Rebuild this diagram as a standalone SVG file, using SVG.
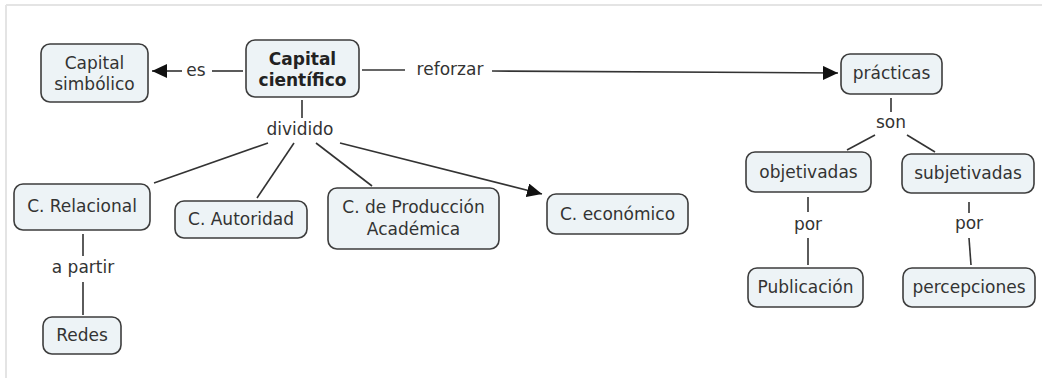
<svg xmlns="http://www.w3.org/2000/svg" width="1042" height="378" viewBox="0 0 1042 378">
<style>
.n rect{fill:#edf3f6;stroke:#3d3d3d;stroke-width:1.6}
text{font-family:"DejaVu Sans","Liberation Sans",sans-serif;font-size:17px;fill:#333;text-anchor:middle;dominant-baseline:central}
.b{font-weight:bold;fill:#222}
.c line{stroke:#333;stroke-width:1.6;fill:none}
</style>
<defs>
<marker id="ah" markerUnits="userSpaceOnUse" markerWidth="16" markerHeight="14" refX="15" refY="7" orient="auto">
<path d="M0,0 L15,7 L0,14 Z" fill="#111"/>
</marker>
</defs>
<rect x="0" y="0" width="1042" height="378" fill="#fff"/>
<line x1="6" y1="5" x2="1042" y2="5" stroke="#e4e4e4" stroke-width="2"/>
<line x1="6" y1="5" x2="6" y2="378" stroke="#e4e4e4" stroke-width="2"/>

<g class="c" id="connectors">
<line x1="243" y1="71" x2="212" y2="71"/>
<text x="196" y="70">es</text>
<line x1="182" y1="71" x2="152" y2="71" marker-end="url(#ah)"/>
<line x1="362" y1="70" x2="405" y2="70"/>
<text x="450" y="69">reforzar</text>
<line x1="492" y1="71" x2="838" y2="73" marker-end="url(#ah)"/>
<line x1="302" y1="100" x2="302" y2="118"/>
<text x="300" y="129">dividido</text>
<line x1="268" y1="143" x2="154" y2="183"/>
<line x1="294" y1="143" x2="257" y2="198"/>
<line x1="316" y1="143" x2="372" y2="186"/>
<line x1="340" y1="143" x2="542" y2="194" marker-end="url(#ah)"/>
<line x1="83" y1="234" x2="83" y2="256"/>
<text x="83" y="267">a partir</text>
<line x1="83" y1="282" x2="83" y2="315"/>
<line x1="891" y1="98" x2="891" y2="112"/>
<text x="891" y="122">son</text>
<line x1="875" y1="135" x2="847" y2="150"/>
<line x1="907" y1="135" x2="935" y2="152"/>
<line x1="808" y1="197" x2="808" y2="212"/>
<text x="808" y="224">por</text>
<line x1="808" y1="238" x2="808" y2="265"/>
<line x1="969" y1="202" x2="969" y2="213"/>
<text x="969" y="223">por</text>
<line x1="969" y1="238" x2="971" y2="265"/>
</g>

<g class="n" id="capital-simbolico"><rect x="41" y="44" width="107" height="58" rx="9"/><text x="94.5" y="62.5">Capital</text><text x="94.5" y="84">simbólico</text></g>
<g class="n" id="capital-cientifico"><rect x="246" y="40" width="113" height="57" rx="9"/><text class="b" x="302.5" y="58.5">Capital</text><text class="b" x="302.5" y="80">científico</text></g>
<g class="n" id="c-relacional"><rect x="14" y="184" width="136" height="46" rx="9"/><text x="82" y="206">C. Relacional</text></g>
<g class="n" id="c-autoridad"><rect x="175" y="201" width="132" height="37" rx="9"/><text x="241" y="219">C. Autoridad</text></g>
<g class="n" id="c-produccion"><rect x="328" y="188" width="171" height="61" rx="9"/><text x="413.5" y="207">C. de Producción</text><text x="413.5" y="229">Académica</text></g>
<g class="n" id="c-economico"><rect x="547" y="194" width="141" height="40" rx="9"/><text x="617.5" y="213.5">C. económico</text></g>
<g class="n" id="redes"><rect x="43" y="317" width="78" height="37" rx="9"/><text x="82" y="335">Redes</text></g>
<g class="n" id="practicas"><rect x="841" y="54" width="101" height="40" rx="9"/><text x="891.5" y="73">prácticas</text></g>
<g class="n" id="objetivadas"><rect x="746" y="152" width="125" height="40" rx="9"/><text x="808.5" y="171.5">objetivadas</text></g>
<g class="n" id="subjetivadas"><rect x="902" y="154" width="132" height="39" rx="9"/><text x="968" y="173">subjetivadas</text></g>
<g class="n" id="publicacion"><rect x="748" y="268" width="115" height="39" rx="9"/><text x="805.5" y="287">Publicación</text></g>
<g class="n" id="percepciones"><rect x="903" y="268" width="132" height="39" rx="9"/><text x="969" y="287">percepciones</text></g>
</svg>
